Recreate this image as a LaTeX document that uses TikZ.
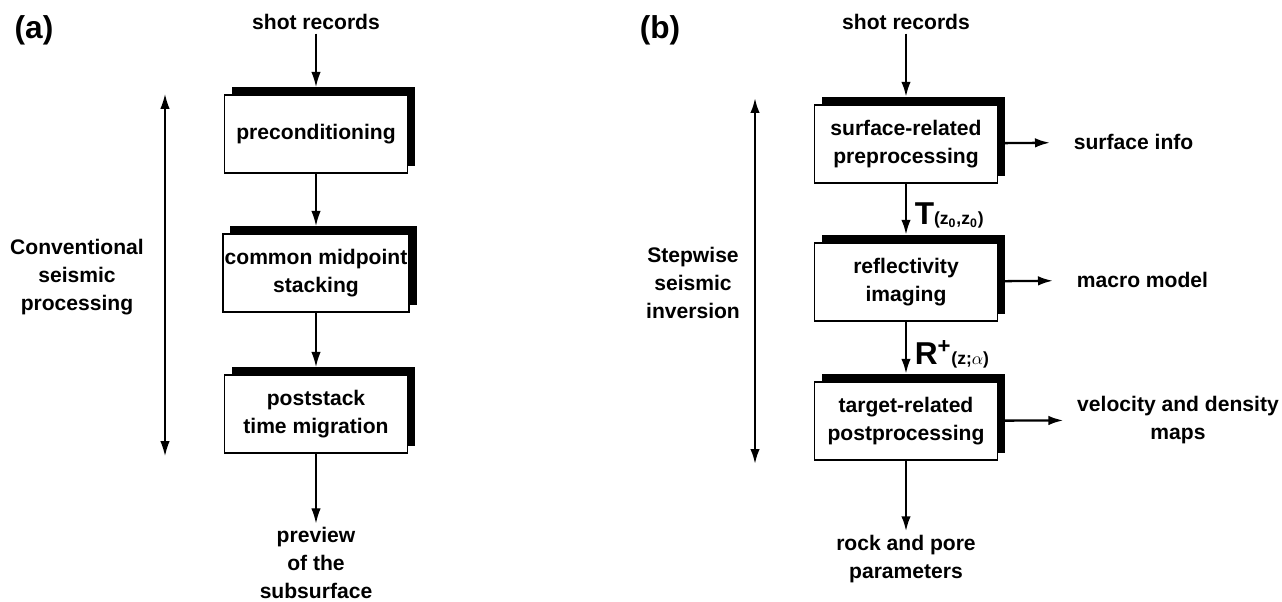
\documentclass[tikz,border=0pt]{standalone}
\usepackage{fontspec}
\setmainfont{Liberation Sans}
\usetikzlibrary{arrows.meta,shadows}
\tikzstyle{stage}=[draw,fill=white,line width=1.1pt,minimum width=3.66cm,minimum height=1.57cm,inner sep=1pt,align=center,general shadow={fill=black,shadow xshift=0.15cm,shadow yshift=0.15cm}]
\tikzstyle{txt}=[align=center,inner sep=2pt]
\tikzstyle{linea}=[line width=.8pt]
\tikzstyle{lineb}=[line width=1.3pt]
\tikzset{>={Latex[length=3mm,width=1.9mm]}}

\begin{document}
\begin{tikzpicture}[x=0.02cm,y=-0.02cm,font=\fontsize{12}{16}\selectfont\bfseries]
  \useasboundingbox (0,0) rectangle (1282,602);

  % (a) conventional processing
  \node[txt,font=\fontsize{18}{18}\selectfont\bfseries] (laba) at (34,30) {(a)};
  \node[txt] (shota) at (316,22) {shot records};
  \node[stage] (precond) at (316,134) {preconditioning};
  \node[stage] (cmp) at (316,273) {common midpoint\\ stacking};
  \node[stage] (migr) at (316,414) {poststack\\ time migration};
  \node[txt] (preview) at (316,563) {preview\\ of the\\ subsurface};
  \node[txt] (conv) at (77,277) {Conventional\\ seismic\\ processing};
  \coordinate (atop) at (165,94);
  \coordinate (abot) at (165,456);

  \draw[linea,->,shorten >=0.14cm] (shota) -- (precond) ;
  \draw[linea,->,shorten >=0.14cm] (precond) -- (cmp) ;
  \draw[linea,->,shorten >=0.14cm] (cmp) -- (migr) ;
  \draw[linea,->] (migr) -- (preview) ;
  \draw[linea,<->] (atop) -- (abot) ;

  % (b) stepwise inversion
  \node[txt,font=\fontsize{18}{18}\selectfont\bfseries] (labb) at (660,30) {(b)};
  \node[txt] (shotb) at (906,22) {shot records};
  \node[stage] (surfpre) at (906,144) {surface-related\\ preprocessing};
  \node[stage] (reflim) at (906,282) {reflectivity\\ imaging};
  \node[stage] (targpost) at (906,421) {target-related\\ postprocessing};
  \node[txt,anchor=west] (surfinfo) at (1070,142) {surface info};
  \node[txt,anchor=west] (macro) at (1073,280) {macro model};
  \node[txt] (velden) at (1178,420) {velocity and density\\ maps};
  \node[txt] (rock) at (906,559) {rock and pore\\ parameters};
  \node[txt] (stepw) at (693,283) {Stepwise\\ seismic\\ inversion};
  \coordinate (btop) at (755,98);
  \coordinate (bbot) at (755,464);

  \draw[lineb,->,shorten >=0.14cm] (shotb) -- (surfpre) ;
  \draw[lineb,->,shorten >=0.14cm] (surfpre) -- node[right=1pt,pos=0.55] {{\fontsize{18}{18}\selectfont T}{\fontsize{10}{10}\selectfont (z\textsubscript{0},z\textsubscript{0})}} (reflim) ;
  \draw[lineb,->,shorten >=0.14cm] (reflim) -- node[right=1pt,pos=0.55] {{\fontsize{18}{18}\selectfont R\textsuperscript{+}}{\fontsize{10}{10}\selectfont (z;$\alpha$)}} (targpost) ;
  \draw[lineb,->] (targpost) -- (rock) ;
  \draw[lineb,->,shorten >=0.4cm] (surfpre) -- (surfinfo) ;
  \draw[lineb,->,shorten >=0.4cm] (reflim) -- (macro) ;
  \draw[lineb,->,shorten >=0.2cm] (targpost) -- (velden) ;
  \draw[lineb,<->] (btop) -- (bbot) ;
\end{tikzpicture}
\end{document}
